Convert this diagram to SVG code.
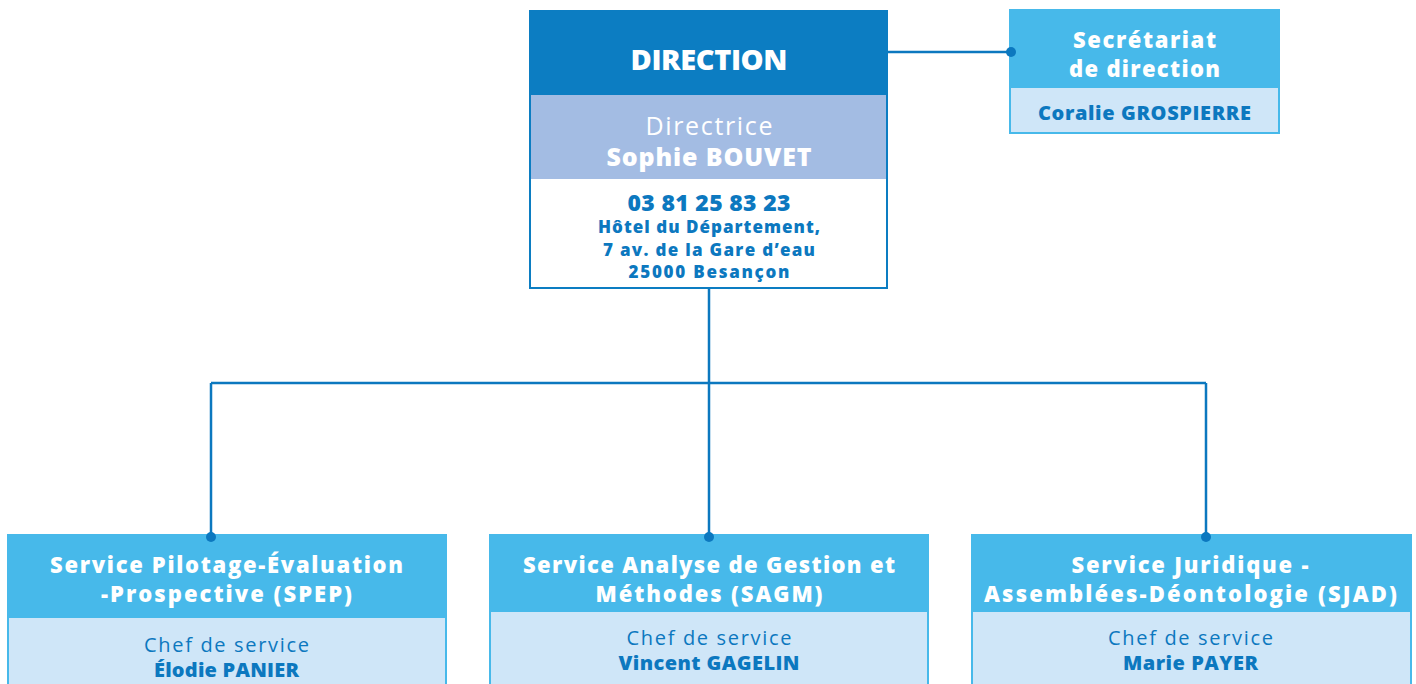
<svg xmlns="http://www.w3.org/2000/svg" width="1416" height="684" viewBox="0 0 1416 684">
<style>
  text { font-family: "Open Sans", "Liberation Sans", sans-serif; text-anchor: middle; }
  .w { fill: #ffffff; }
  .b { fill: #0c78bf; }
  .bold { font-weight: 800; }
  .reg { font-weight: 400; }
  .conn { fill: none; stroke: #0c78bf; stroke-width: 2.5; }
  .dot { fill: #0c78bf; }
</style>
<rect width="1416" height="684" fill="#ffffff"/>
<g id="direction">
  <rect x="530" y="11" width="357" height="277" fill="#ffffff" stroke="#0c7dc2" stroke-width="2"/>
  <rect x="530" y="11" width="357" height="84" fill="#0c7dc2"/>
  <rect x="531" y="95" width="355" height="84" fill="#a3bce3"/>
  <text class="w bold" x="709" y="70" font-size="29" textLength="157" lengthAdjust="spacing">DIRECTION</text>
  <text class="w reg" x="709" y="135" font-size="25" textLength="127" lengthAdjust="spacing">Directrice</text>
  <text class="w bold" x="709" y="166" font-size="25" textLength="205" lengthAdjust="spacing">Sophie BOUVET</text>
  <text class="b bold" x="709" y="211" font-size="23" textLength="163" lengthAdjust="spacing">03 81 25 83 23</text>
  <text class="b bold" x="709" y="233" font-size="17" textLength="222" lengthAdjust="spacing">Hôtel du Département,</text>
  <text class="b bold" x="709" y="256" font-size="17" textLength="212" lengthAdjust="spacing">7 av. de la Gare d’eau</text>
  <text class="b bold" x="709" y="278" font-size="17" textLength="161" lengthAdjust="spacing">25000 Besançon</text>
</g>
<g id="secretariat">
  <rect x="1010" y="10" width="269" height="123" fill="#cfe6f8" stroke="#47b9ea" stroke-width="2"/>
  <rect x="1010" y="10" width="269" height="78" fill="#47b9ea"/>
  <text class="w bold" x="1144.5" y="48" font-size="22" textLength="143" lengthAdjust="spacing">Secrétariat</text>
  <text class="w bold" x="1144.5" y="77" font-size="22" textLength="151" lengthAdjust="spacing">de direction</text>
  <text class="b bold" x="1144.5" y="120" font-size="20" textLength="213" lengthAdjust="spacing">Coralie GROSPIERRE</text>
</g>
<g id="spep">
  <rect x="8" y="535" width="438" height="160" fill="#cfe6f8" stroke="#47b9ea" stroke-width="2"/>
  <rect x="8" y="535" width="438" height="83" fill="#47b9ea"/>
  <text class="w bold" x="226.5" y="573" font-size="22" textLength="353" lengthAdjust="spacing">Service Pilotage-Évaluation</text>
  <text class="w bold" x="226.5" y="602" font-size="22" textLength="251" lengthAdjust="spacing">-Prospective (SPEP)</text>
  <text class="b reg" x="226.5" y="652" font-size="20" textLength="165" lengthAdjust="spacing">Chef de service</text>
  <text class="b bold" x="226.5" y="677" font-size="20" textLength="145" lengthAdjust="spacing">Élodie PANIER</text>
</g>
<g id="sagm">
  <rect x="490" y="535" width="438" height="160" fill="#cfe6f8" stroke="#47b9ea" stroke-width="2"/>
  <rect x="490" y="535" width="438" height="77" fill="#47b9ea"/>
  <text class="w bold" x="709" y="573" font-size="22" textLength="372" lengthAdjust="spacing">Service Analyse de Gestion et</text>
  <text class="w bold" x="709" y="602" font-size="22" textLength="227" lengthAdjust="spacing">Méthodes (SAGM)</text>
  <text class="b reg" x="709" y="645" font-size="20" textLength="165" lengthAdjust="spacing">Chef de service</text>
  <text class="b bold" x="709" y="670" font-size="20" textLength="181" lengthAdjust="spacing">Vincent GAGELIN</text>
</g>
<g id="sjad">
  <rect x="972" y="535" width="439" height="160" fill="#cfe6f8" stroke="#47b9ea" stroke-width="2"/>
  <rect x="972" y="535" width="439" height="77" fill="#47b9ea"/>
  <text class="w bold" x="1190" y="573" font-size="22" textLength="237" lengthAdjust="spacing">Service Juridique -</text>
  <text class="w bold" x="1190.5" y="602" font-size="22" textLength="413" lengthAdjust="spacing">Assemblées-Déontologie (SJAD)</text>
  <text class="b reg" x="1190.5" y="645" font-size="20" textLength="165" lengthAdjust="spacing">Chef de service</text>
  <text class="b bold" x="1190.5" y="670" font-size="20" textLength="135" lengthAdjust="spacing">Marie PAYER</text>
</g>
<g id="connectors">
  <path class="conn" d="M709 289 V383 M211 383 H1206 M211 383 V537 M709 383 V537 M1206 383 V537 M888 52 H1011"/>
  <circle class="dot" cx="211" cy="537" r="5"/>
  <circle class="dot" cx="709" cy="537" r="5"/>
  <circle class="dot" cx="1206" cy="537" r="5"/>
  <circle class="dot" cx="1011" cy="52" r="5"/>
</g>
</svg>
